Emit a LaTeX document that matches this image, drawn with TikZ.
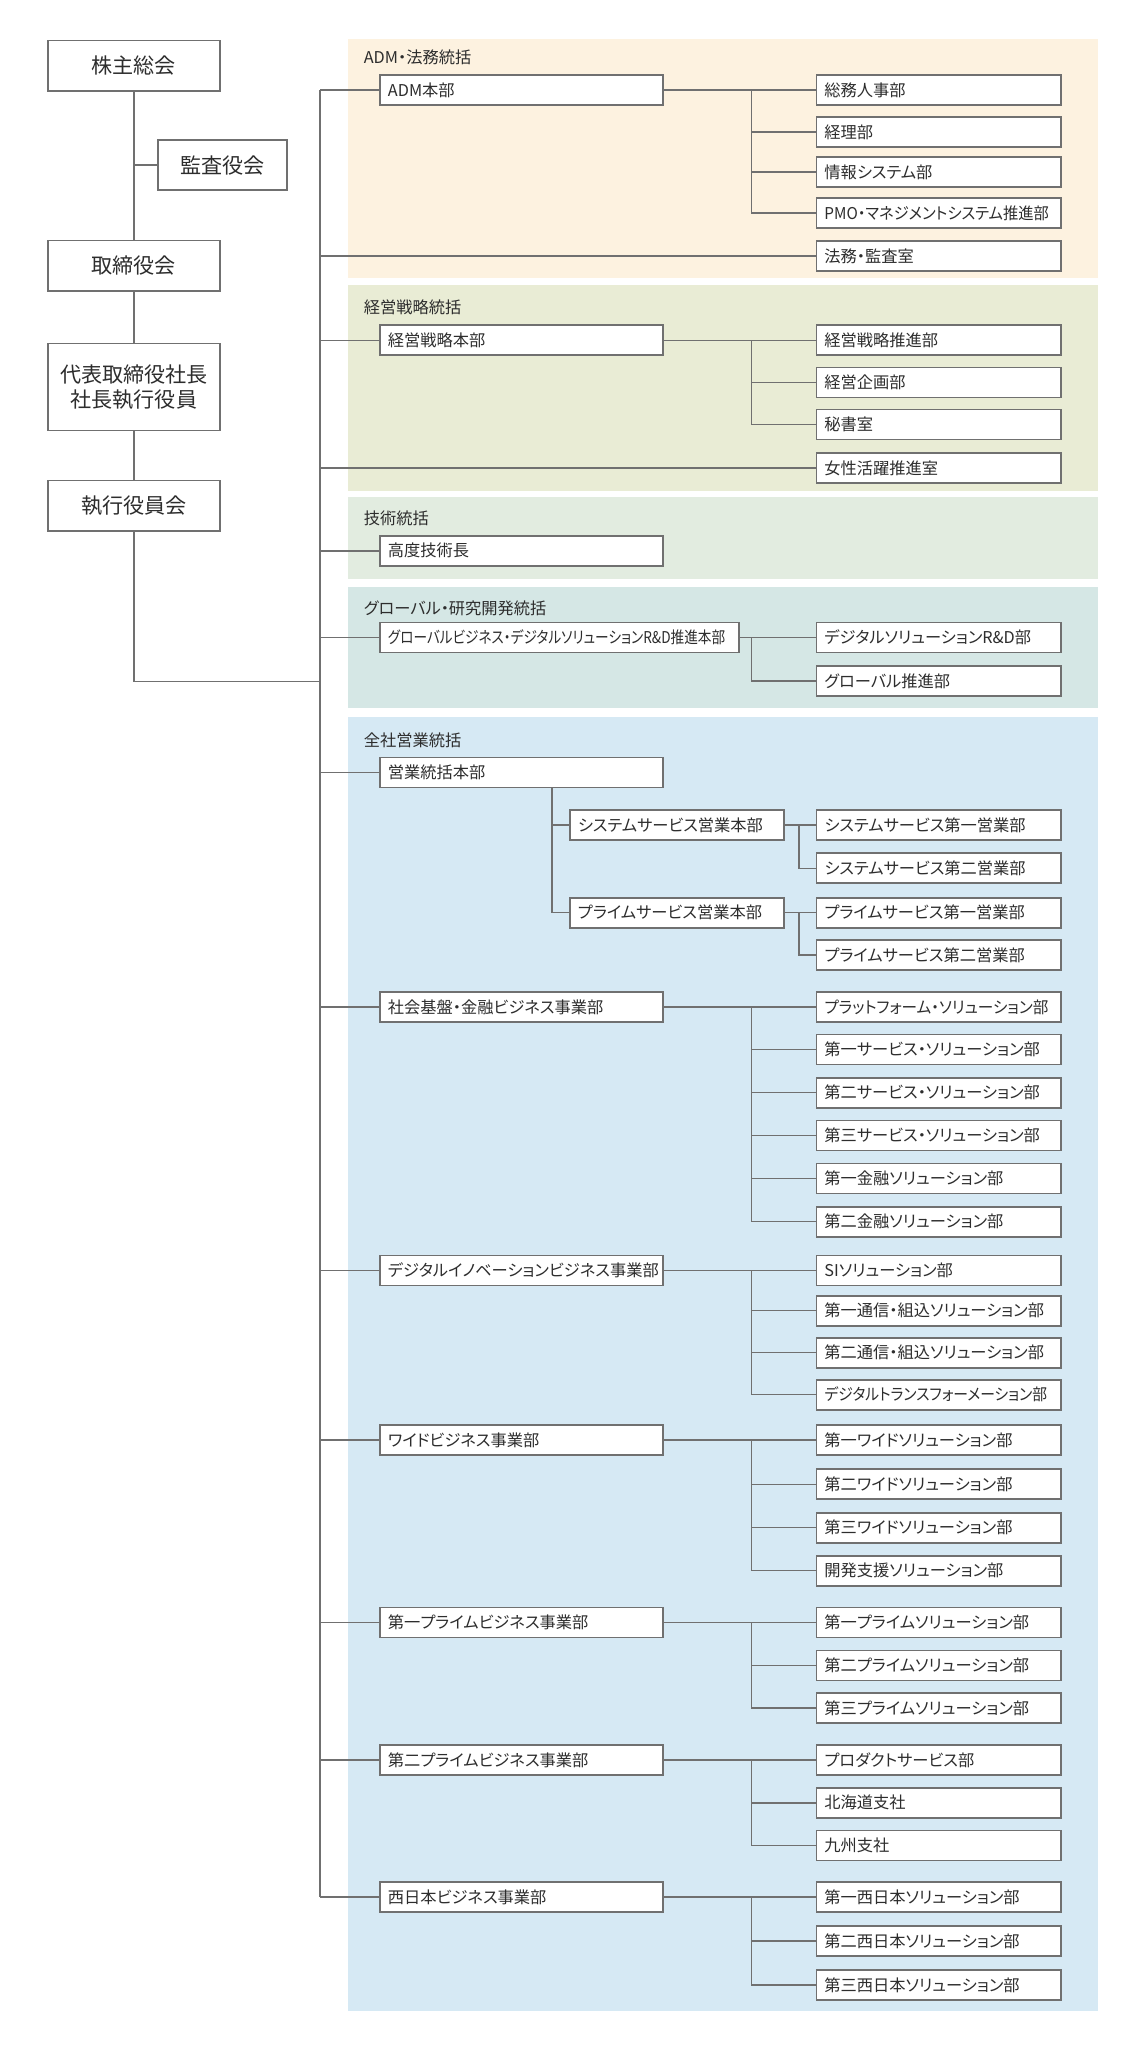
\documentclass[tikz,border=0pt]{standalone}
\usepackage{fontspec}
\newfontfamily\jpfont[RawFeature=+palt]{Noto Sans CJK JP}
\definecolor{linegray}{RGB}{112,112,112}
\definecolor{textgray}{RGB}{45,45,45}
\definecolor{admfill}{RGB}{253,242,224}
\definecolor{stratfill}{RGB}{233,236,213}
\definecolor{techfill}{RGB}{226,236,224}
\definecolor{globfill}{RGB}{213,231,229}
\definecolor{salesfill}{RGB}{214,233,244}
\tikzset{
  link/.style={linegray, line width=0.85pt},
  topbox/.style={draw=linegray, line width=1.1pt, fill=white, text=textgray,
    font=\jpfont\fontsize{12}{14.2}\selectfont, align=center, inner sep=0pt,
    minimum width=3.44cm, minimum height=1.01cm},
  orgbox/.style={draw=linegray, line width=1.1pt, fill=white, text=textgray,
    font=\jpfont\fontsize{9.25}{11}\selectfont, anchor=west, align=left,
    inner xsep=0.16cm, inner ysep=0pt, minimum height=0.6cm, text width=#1},
  orgbox/.default=5.34cm,
  unitbox/.style={orgbox=4.58cm},
  grouplabel/.style={anchor=west, inner sep=0pt, text=textgray,
    font=\jpfont\fontsize{9.25}{11}\selectfont},
}
\begin{document}
\begin{tikzpicture}[x=0.02cm,y=-0.02cm]
\useasboundingbox (0,0) rectangle (1146,2048);
% group bands
\fill[admfill] (348,39.3) rectangle (1098,277.5);
\fill[stratfill] (348,284.6) rectangle (1098,490.5);
\fill[techfill] (348,497.2) rectangle (1098,579);
\fill[globfill] (348,586.7) rectangle (1098,708);
\fill[salesfill] (348,716.7) rectangle (1098,2010.5);
\node[grouplabel] (admlbl) at (363.5,57.1) {ADM・法務統括};
\node[grouplabel] (stratlbl) at (363.5,307.1) {経営戦略統括};
\node[grouplabel] (techlbl) at (363.5,518.5) {技術統括};
\node[grouplabel] (globlbl) at (363.5,608.3) {グローバル・研究開発統括};
\node[grouplabel] (saleslbl) at (363.5,740) {全社営業統括};
% left column
\node[topbox] (agm) at (133.9,65.75) {株主総会};
\node[topbox, minimum width=2.59cm] (audit) at (222.7,165.2) {監査役会};
\node[topbox] (board) at (133.9,265.75) {取締役会};
\node[topbox, minimum height=1.74cm] (ceo) at (133.9,387) {代表取締役社長\\社長執行役員};
\node[topbox] (excom) at (133.9,505.75) {執行役員会};
\coordinate (trunk) at (320,90);
\coordinate (join) at (320,681.5);
\coordinate (br) at (751.5,0);
\coordinate (subbr) at (799,0);
\coordinate (salesbr) at (552,0);
% headquarters and divisions
\foreach \n/\y/\t in {admhq/90/ADM本部, strathq/340.4/経営戦略本部, techhq/550.8/高度技術長,
    saleshq/772.5/営業統括本部, socbiz/1007/社会基盤・金融ビジネス事業部,
    dibiz/1270.5/デジタルイノベーションビジネス事業部, widebiz/1440.2/ワイドビジネス事業部,
    p1biz/1622.5/第一プライムビジネス事業部, p2biz/1760/第二プライムビジネス事業部,
    westbiz/1897/西日本ビジネス事業部}
  \node[orgbox] (\n) at (379,\y) {\t};
\node[orgbox=6.86cm] (globhq) at (379,637.5) {\scalebox{0.84}[1]{グローバルビジネス・デジタルソリューションR\&D推進本部}};
\node[orgbox=3.97cm] (syshq) at (569,825) {システムサービス営業本部};
\node[orgbox=3.97cm] (primehq) at (569,912.7) {プライムサービス営業本部};
% departments
\foreach \n/\y/\t in {somu/90/総務人事部, keiri/132.1/経理部, joho/172.1/情報システム部,
    pmo/213/\scalebox{0.94}[1]{PMO・マネジメントシステム推進部}, homu/256/法務・監査室,
    senryaku/340.4/経営戦略推進部, kikaku/382.5/経営企画部, hisho/424.5/秘書室,
    josei/468.2/女性活躍推進室,
    rnd/637.5/デジタルソリューションR\&D部, gsuishin/681/グローバル推進部,
    sys1/825/システムサービス第一営業部, sys2/868.3/システムサービス第二営業部,
    pr1/912.7/プライムサービス第一営業部, pr2/955/プライムサービス第二営業部,
    plat/1007/\scalebox{0.96}[1]{プラットフォーム・ソリューション部}, sv1/1049.5/第一サービス・ソリューション部,
    sv2/1092.7/第二サービス・ソリューション部, sv3/1135.5/第三サービス・ソリューション部,
    fin1/1178.5/第一金融ソリューション部, fin2/1221.7/第二金融ソリューション部,
    si/1270.5/SIソリューション部, tc1/1310.7/第一通信・組込ソリューション部,
    tc2/1352.7/第二通信・組込ソリューション部, dx/1394.7/\scalebox{0.91}[1]{デジタルトランスフォーメーション部},
    wd1/1440.2/第一ワイドソリューション部, wd2/1484.3/第二ワイドソリューション部,
    wd3/1527.6/第三ワイドソリューション部, devs/1570.6/開発支援ソリューション部,
    ps1/1622.5/第一プライムソリューション部, ps2/1665.5/第二プライムソリューション部,
    ps3/1708/第三プライムソリューション部,
    prod/1760/プロダクトサービス部, hokkaido/1802.8/北海道支社, kyushu/1845.5/九州支社,
    ws1/1897/第一西日本ソリューション部, ws2/1940.8/第二西日本ソリューション部,
    ws3/1985.2/第三西日本ソリューション部}
  \node[unitbox] (\n) at (815.5,\y) {\t};
% left column links
\draw[link] (agm) -- (board);
\draw[link] (board) -- (ceo);
\draw[link] (ceo) -- (excom);
\draw[link] (audit.west -| agm) -- (audit.west);
\draw[link] (excom.south) |- (join);
% trunk
\draw[link] (admhq.west -| trunk) -- (westbiz.west -| trunk);
\foreach \n in {admhq,homu,strathq,josei,techhq,globhq,saleshq,socbiz,dibiz,widebiz,p1biz,p2biz,westbiz}
  \draw[link] (\n.west -| trunk) -- (\n.west);
% branches
\draw[link] (admhq) -- (somu);
\foreach \c in {keiri,joho,pmo} \draw[link] (admhq.east -| br) |- (\c.west);
\draw[link] (strathq) -- (senryaku);
\foreach \c in {kikaku,hisho} \draw[link] (strathq.east -| br) |- (\c.west);
\draw[link] (globhq) -- (rnd);
\draw[link] (globhq.east -| br) |- (gsuishin.west);
\foreach \c in {syshq,primehq} \draw[link] (saleshq.south -| salesbr) |- (\c.west);
\draw[link] (syshq) -- (sys1);
\draw[link] (syshq.east -| subbr) |- (sys2.west);
\draw[link] (primehq) -- (pr1);
\draw[link] (primehq.east -| subbr) |- (pr2.west);
\draw[link] (socbiz) -- (plat);
\foreach \c in {sv1,sv2,sv3,fin1,fin2} \draw[link] (socbiz.east -| br) |- (\c.west);
\draw[link] (dibiz) -- (si);
\foreach \c in {tc1,tc2,dx} \draw[link] (dibiz.east -| br) |- (\c.west);
\draw[link] (widebiz) -- (wd1);
\foreach \c in {wd2,wd3,devs} \draw[link] (widebiz.east -| br) |- (\c.west);
\draw[link] (p1biz) -- (ps1);
\foreach \c in {ps2,ps3} \draw[link] (p1biz.east -| br) |- (\c.west);
\draw[link] (p2biz) -- (prod);
\foreach \c in {hokkaido,kyushu} \draw[link] (p2biz.east -| br) |- (\c.west);
\draw[link] (westbiz) -- (ws1);
\foreach \c in {ws2,ws3} \draw[link] (westbiz.east -| br) |- (\c.west);
\end{tikzpicture}
\end{document}
